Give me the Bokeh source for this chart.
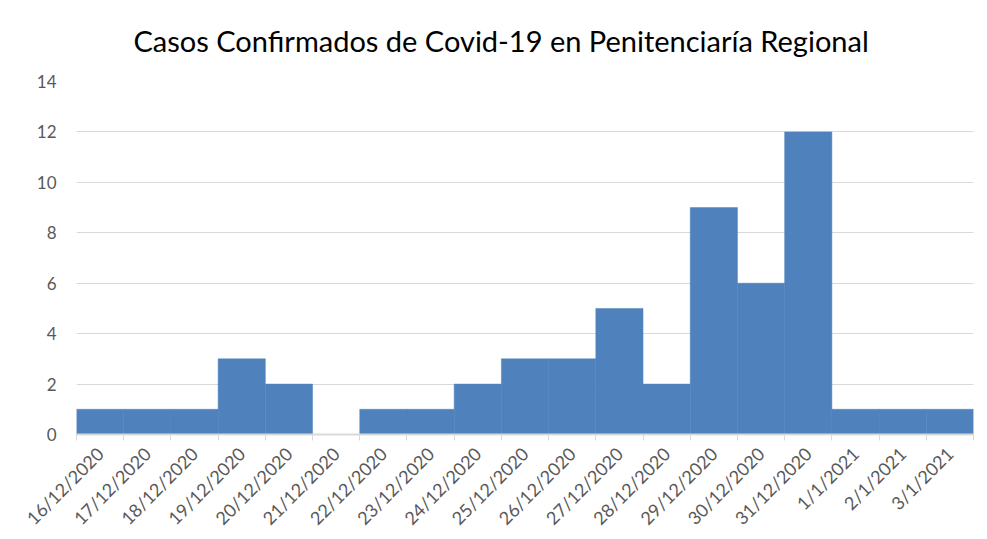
from bokeh.plotting import figure
from bokeh.models import Range1d, FixedTicker
from bokeh.embed import file_html
from bokeh.resources import INLINE
import math

dates = ["16/12/2020", "17/12/2020", "18/12/2020", "19/12/2020", "20/12/2020",
         "21/12/2020", "22/12/2020", "23/12/2020", "24/12/2020", "25/12/2020",
         "26/12/2020", "27/12/2020", "28/12/2020", "29/12/2020", "30/12/2020",
         "31/12/2020", "1/1/2021", "2/1/2021", "3/1/2021"]
cases = [1, 1, 1, 3, 2, 0, 1, 1, 2, 3, 3, 5, 2, 9, 6, 12, 1, 1, 1]
y_ticks = [0, 2, 4, 6, 8, 10, 12, 14]

n = len(dates)
centers = [i + 0.5 for i in range(n)]
bounds = list(range(n + 1))

p = figure(width=987, height=539, output_backend="svg", toolbar_location=None,
           x_range=Range1d(0, n), y_range=Range1d(0, 14),
           min_border_left=76, min_border_right=14, min_border_top=80, min_border_bottom=105,
           title="Casos Confirmados de Covid-19 en Penitenciaría Regional")

p.vbar(x=centers, top=cases, bottom=0, width=1.0, fill_color="#4f81bd",
       line_color="#4f81bd", line_width=0.5)

p.title.text_font = "Lato"
p.title.text_font_size = "29px"
p.title.text_font_style = "normal"
p.title.text_color = "#000000"
p.title.align = "left"
p.title.vertical_align = "top"
p.title.standoff = 44
p.title.offset = 57

p.outline_line_color = None
p.xgrid.grid_line_color = None
p.ygrid.ticker = FixedTicker(ticks=y_ticks)
p.ygrid.grid_line_color = "#d9d9d9"
p.ygrid.grid_line_width = 1

p.yaxis.ticker = FixedTicker(ticks=y_ticks)
p.yaxis.axis_line_color = None
p.yaxis.major_tick_line_color = None
p.yaxis.minor_tick_line_color = None
p.yaxis.major_label_text_font = "Lato"
p.yaxis.major_label_text_font_size = "17px"
p.yaxis.major_label_text_color = "#595959"
p.yaxis.major_label_standoff = 14

p.xaxis.ticker = FixedTicker(ticks=centers, minor_ticks=bounds)
p.xaxis.major_label_overrides = {c: d for c, d in zip(centers, dates)}
p.xaxis.major_tick_line_color = None
p.xaxis.minor_tick_line_color = "#d9d9d9"
p.xaxis.minor_tick_out = 6
p.xaxis.minor_tick_in = 0
p.xaxis.minor_tick_line_width = 1
p.xaxis.axis_line_color = "#d9d9d9"
p.xaxis.axis_line_width = 2
p.xaxis.major_label_orientation = math.pi / 4
p.xaxis.major_label_text_font = "Lato"
p.xaxis.major_label_text_font_size = "18px"
p.xaxis.major_label_text_color = "#595959"
p.xaxis.major_label_standoff = 10

open("out.html", "w").write(file_html(p, INLINE))
